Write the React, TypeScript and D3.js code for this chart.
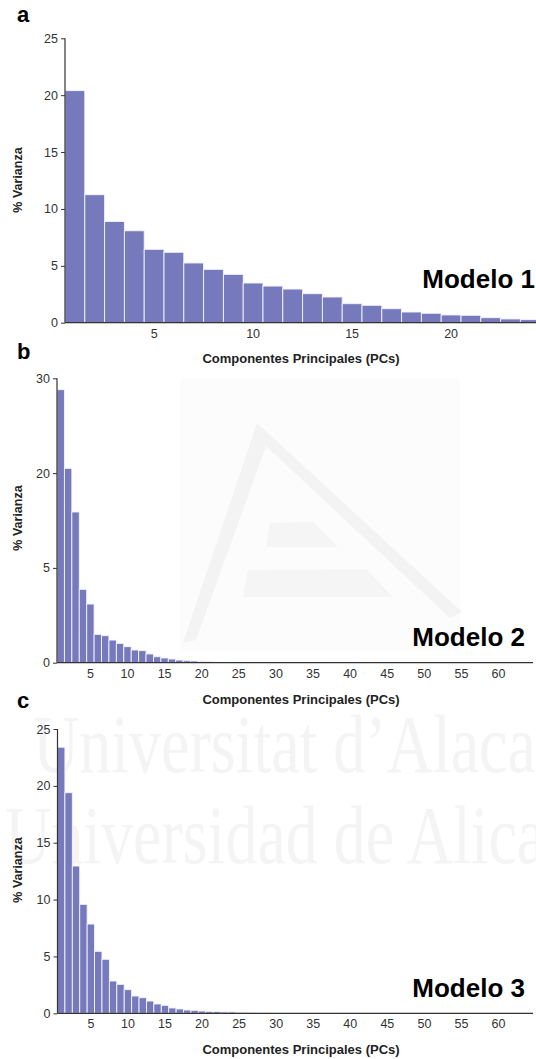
import React, { useRef, useEffect } from "react";
import * as d3 from "d3";

// % varianza explicada por cada componente principal
const valuesA = [
  20.4, 11.25, 8.9, 8.08, 6.45, 6.19, 5.25, 4.69, 4.25, 3.49, 3.22, 2.96,
  2.55, 2.26, 1.67, 1.53, 1.23, 0.94, 0.83, 0.68, 0.65, 0.44, 0.33, 0.27,
];

const valuesB = [
  28.8, 20.5, 15.9, 7.74, 6.19, 2.99, 2.85, 2.39, 2.04, 1.69, 1.34, 1.27,
  0.92, 0.63, 0.5, 0.39, 0.28, 0.21, 0.18, 0.14, 0.1, 0.07, 0.05, 0.04,
  0.03, 0.03, 0.02, 0.02, 0.02, 0.01, 0.01, 0.01, 0.01, 0.01, 0.01, 0.01,
  0, 0, 0, 0, 0, 0, 0, 0, 0, 0, 0, 0, 0, 0, 0, 0, 0, 0, 0, 0, 0, 0, 0, 0,
  0, 0, 0, 0,
];

const valuesC = [
  23.4, 19.4, 12.95, 9.58, 7.85, 5.45, 4.75, 2.84, 2.55, 2.08, 1.52, 1.37,
  1.08, 0.82, 0.7, 0.47, 0.38, 0.29, 0.26, 0.2, 0.17, 0.15, 0.12, 0.12,
  0.09, 0.06, 0.04, 0.03, 0.03, 0.02, 0.02, 0.02, 0.01, 0.01, 0.01, 0.01,
  0.01, 0, 0, 0, 0, 0, 0, 0, 0, 0, 0, 0, 0, 0, 0, 0, 0, 0, 0, 0, 0, 0, 0, 0,
  0, 0, 0, 0,
];

const xTicksA = [5, 10, 15, 20];
const xTicksBC = [5, 10, 15, 20, 25, 30, 35, 40, 45, 50, 55, 60];
const yTicksA = [0, 5, 10, 15, 20, 25];
const yTicksB = [0, 10, 20, 30];
const yTickLabelsB = ["0", "5", "20", "30"];
const yTicksC = [0, 5, 10, 15, 20, 25];

const panels = [
  {
    tag: "a", title: "Modelo 1", values: valuesA, yMax: 25,
    yTicks: yTicksA, yLabels: null, xTicks: xTicksA,
    left: 65, right: 540.2, top: 38.3, bottom: 322.7, axisEnd: 540,
    tagY: 22, titleX: 535, titleY: 288, yTitleY: 180, xTitleY: 363,
  },
  {
    tag: "b", title: "Modelo 2", values: valuesB, yMax: 30,
    yTicks: yTicksB, yLabels: yTickLabelsB, xTicks: xTicksBC,
    left: 57, right: 531.9, top: 378.3, bottom: 662.7, axisEnd: 533,
    tagY: 359, titleX: 525, titleY: 646, yTitleY: 518, xTitleY: 704,
  },
  {
    tag: "c", title: "Modelo 3", values: valuesC, yMax: 25,
    yTicks: yTicksC, yLabels: null, xTicks: xTicksBC,
    left: 57.5, right: 531.9, top: 729, bottom: 1013.3, axisEnd: 533,
    tagY: 708, titleX: 525, titleY: 997, yTitleY: 870, xTitleY: 1054,
  },
];

const FONT = "'Liberation Sans', Arial, Helvetica, sans-serif";
const BAR = "#767abd";
const AXIS = "#333";

const App = () => {
  const svgRef = useRef(null);

  useEffect(() => {
    const svg = d3.select(svgRef.current);
    svg.selectAll("*").remove();

    // marca de agua (muy tenue, detrás de todo)
    const wm = svg.append("g").attr("fill", "#f4f4f4").attr("stroke", "none");
    wm.append("rect")
      .attr("x", 180).attr("y", 378).attr("width", 280).attr("height", 272)
      .attr("fill", "#fcfcfc");
    wm.append("path")
      .attr("d", "M257,423 L462,612 L450,618 L266,446 L196,640 L183,643 Z")
      .attr("fill", "#f3f3f3");
    wm.append("path")
      .attr("d", "M270,523 L313,522 L338,547 L266,547 Z")
      .attr("fill", "#f5f5f5");
    wm.append("path")
      .attr("d", "M248,570 L366,569 L393,597 L243,597 Z")
      .attr("fill", "#f5f5f5");
    wm.append("text")
      .attr("transform", "translate(33,772) scale(1,1.3)")
      .attr("font-family", "'Liberation Serif', 'DejaVu Serif', serif")
      .attr("font-size", 64)
      .text("Universitat d\u2019Alacant");
    wm.append("text")
      .attr("transform", "translate(5,863) scale(1,1.3)")
      .attr("font-family", "'Liberation Serif', 'DejaVu Serif', serif")
      .attr("font-size", 64)
      .text("Universidad de Alicante");

    panels.forEach((p) => {
      const g = svg.append("g");
      const pcs = p.values.map((_, i) => i + 1);

      const x = d3
        .scaleBand()
        .domain(pcs)
        .range([p.left, p.right])
        .paddingInner(0)
        .paddingOuter(0);

      const y = d3.scaleLinear().domain([0, p.yMax]).range([p.bottom, p.top]);

      // barras
      g.selectAll("rect.bar")
        .data(p.values)
        .enter()
        .append("rect")
        .attr("class", "bar")
        .attr("x", (d, i) => x(i + 1))
        .attr("y", (d) => y(d))
        .attr("width", x.bandwidth())
        .attr("height", (d) => y(0) - y(d))
        .attr("fill", BAR)
        .attr("stroke", "#f4f4fb")
        .attr("stroke-width", 0.9);

      // eje y
      const yAxis = g
        .append("g")
        .attr("transform", `translate(${p.left},0)`)
        .call(
          d3
            .axisLeft(y)
            .tickValues(p.yTicks)
            .tickSize(4)
            .tickPadding(3)
            .tickFormat((d, i) => (p.yLabels ? p.yLabels[i] : String(d)))
        );
      yAxis.select(".domain").attr("stroke", AXIS).attr("stroke-width", 1.2)
        .attr("d", `M0,${p.top}V${p.bottom}`);
      yAxis.selectAll(".tick line").attr("stroke", AXIS);
      yAxis.selectAll("text")
        .attr("fill", AXIS)
        .style("font-family", FONT)
        .style("font-size", "12.5px");

      // eje x
      const xAxis = g
        .append("g")
        .attr("transform", `translate(0,${p.bottom})`)
        .call(d3.axisBottom(x).tickValues(p.xTicks).tickSize(0).tickPadding(6));
      xAxis.select(".domain").attr("stroke", AXIS).attr("stroke-width", 1.2)
        .attr("d", `M${p.left},0H${p.axisEnd}`);
      xAxis.selectAll("text")
        .attr("fill", AXIS)
        .style("font-family", FONT)
        .style("font-size", "12.5px");

      // textos
      g.append("text")
        .attr("x", 17)
        .attr("y", p.tagY)
        .attr("font-family", FONT)
        .attr("font-weight", "bold")
        .attr("font-size", 22)
        .attr("fill", "#000")
        .text(p.tag);

      g.append("text")
        .attr("x", p.titleX)
        .attr("y", p.titleY)
        .attr("text-anchor", "end")
        .attr("font-family", FONT)
        .attr("font-weight", "bold")
        .attr("font-size", 26)
        .attr("fill", "#000")
        .text(p.title);

      g.append("text")
        .attr("transform", `translate(18,${p.yTitleY}) rotate(-90)`)
        .attr("text-anchor", "middle")
        .attr("dy", "0.35em")
        .attr("font-family", FONT)
        .attr("font-weight", "bold")
        .attr("font-size", 12.5)
        .attr("fill", "#222")
        .text("% Varianza");

      g.append("text")
        .attr("x", 301)
        .attr("y", p.xTitleY)
        .attr("text-anchor", "middle")
        .attr("font-family", FONT)
        .attr("font-weight", "bold")
        .attr("font-size", 13)
        .attr("fill", "#222")
        .text("Componentes Principales (PCs)");
    });
  }, []);

  return (
    <svg
      ref={svgRef}
      width={536}
      height={1059}
      style={{ position: "absolute", left: 0, top: 0, background: "#fff" }}
    ></svg>
  );
};

export default App;
